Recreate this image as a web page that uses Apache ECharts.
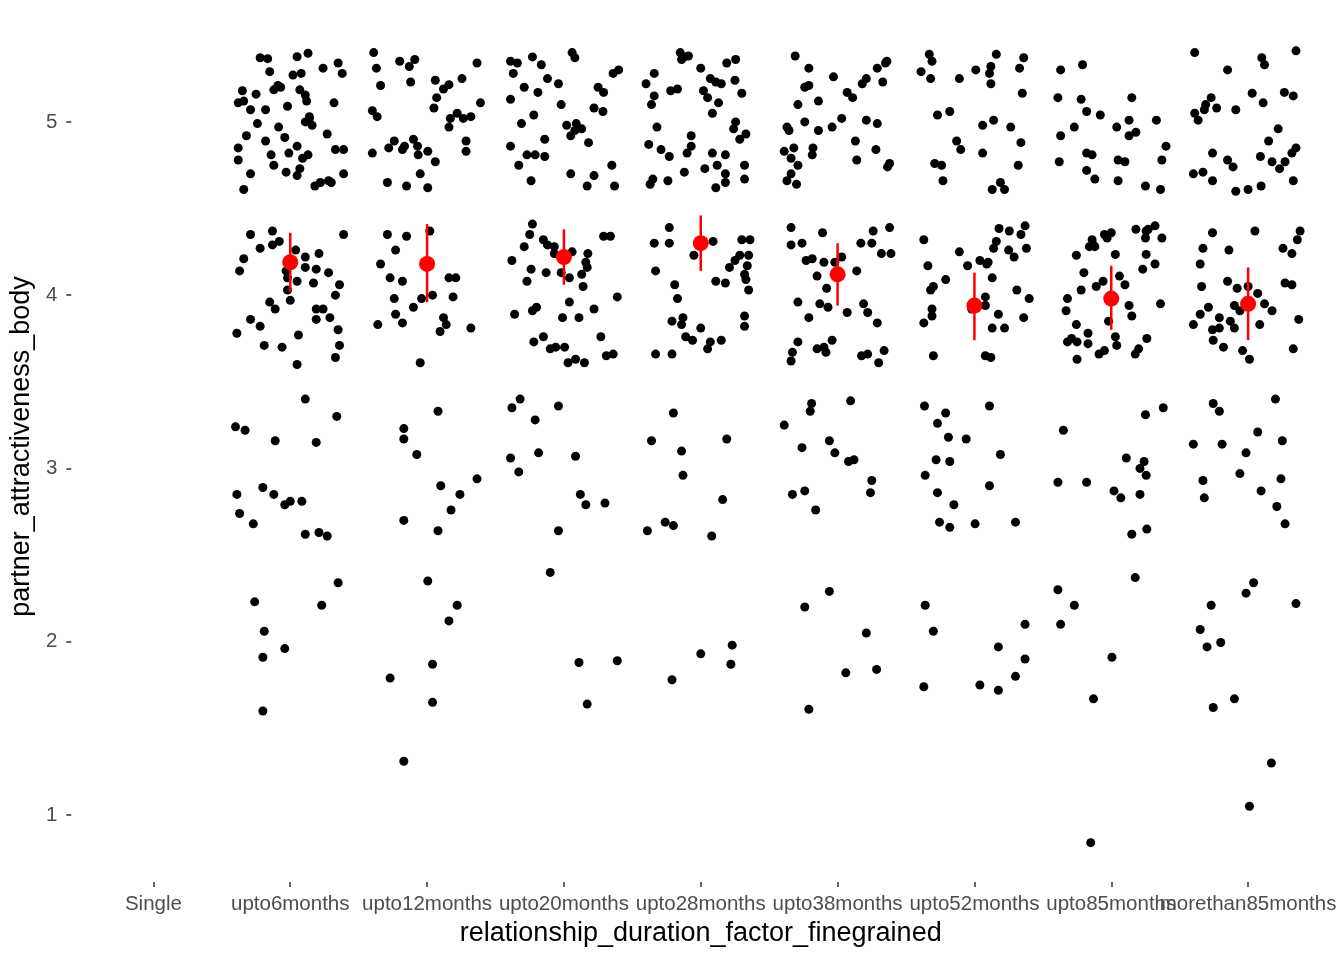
<!DOCTYPE html>
<html>
<head>
<meta charset="utf-8">
<script src="https://cdn.jsdelivr.net/npm/echarts@6/dist/echarts.min.js"></script>
<style>
html,body{margin:0;padding:0;background:#fff;}
#chart{width:1344px;height:960px;}
</style>
</head>
<body>
<div id="chart"></div>
<script>
// ---------- DATA ----------
const categories = ["Single","upto6months","upto12months","upto20months","upto28months","upto38months","upto52months","upto85months","morethan85months"];
const yTicks = [1, 2, 3, 4, 5];

// jittered observations per group: [horizontal jitter (category units), partner_attractiveness_body]
const pts_single = [];
const pts_upto6 = [
[-0.22,5.37],[-0.165,5.365],[0.05,5.376],[0.13,5.396],[0.24,5.31],[0.35,5.34],[0.38,5.28],[-0.15,5.29],[0.02,5.27],[0.08,5.28],[-0.35,5.18],[-0.25,5.16],[-0.09,5.21],[-0.07,5.20],[-0.12,5.185],[0.07,5.185],[0.11,5.155],[0.12,5.12],[-0.38,5.11],[-0.34,5.12],[-0.29,5.07],[-0.18,5.07],[-0.02,5.09],[0.32,5.11],[0.14,5.03],[0.11,5.00],[0.16,4.98],[0.14,5.02],[-0.24,4.99],[-0.085,4.97],[-0.32,4.92],[-0.04,4.91],[0.27,4.93],[-0.18,4.89],[-0.38,4.85],[0.05,4.86],[-0.38,4.78],[-0.14,4.81],[-0.01,4.82],[0.09,4.79],[0.13,4.81],[0.33,4.84],[0.39,4.84],[-0.12,4.75],[-0.03,4.71],[0.07,4.73],[0.05,4.69],[-0.29,4.70],[0.39,4.70],[0.18,4.63],[0.22,4.65],[0.28,4.66],[0.30,4.65],[-0.34,4.61],
[-0.29,4.35],[-0.13,4.37],[-0.08,4.31],[-0.22,4.27],[-0.13,4.29],[0.39,4.35],[0.04,4.26],[-0.34,4.21],[0.11,4.22],[0.21,4.24],[-0.37,4.14],[-0.03,4.14],[0.11,4.16],[0.19,4.15],[0.28,4.13],[-0.02,4.10],[0.05,4.08],[0.17,4.07],[0.36,4.06],[-0.02,4.03],[0.33,4.00],[0.00,3.97],[-0.15,3.96],[-0.11,3.92],[0.19,3.92],[0.24,3.92],[0.19,3.86],[0.29,3.87],[-0.29,3.86],[-0.22,3.82],[-0.39,3.78],[0.35,3.80],[0.06,3.77],[-0.19,3.71],[-0.06,3.70],[0.36,3.71],[0.33,3.64],[0.05,3.60],
[0.11,3.40],[0.34,3.30],[-0.40,3.24],[-0.33,3.22],[-0.11,3.16],[0.19,3.15],[-0.39,2.85],[-0.20,2.89],[-0.12,2.85],[-0.04,2.79],[0.00,2.81],[0.085,2.81],[-0.37,2.74],[-0.27,2.68],[0.11,2.62],[0.21,2.63],[0.27,2.61],
[0.35,2.34],[-0.26,2.23],[0.23,2.21],[-0.19,2.06],[-0.04,1.96],[-0.20,1.91],[-0.20,1.60]
];
const pts_upto12 = [
[-0.39,5.40],[-0.37,5.31],[-0.20,5.35],[-0.13,5.32],[-0.09,5.36],[0.365,5.34],[-0.34,5.21],[-0.12,5.23],[0.06,5.24],[0.255,5.25],[0.12,5.19],[0.16,5.215],[0.07,5.14],[0.05,5.08],[0.39,5.11],[-0.40,5.065],[-0.365,5.03],[0.17,5.02],[0.22,5.05],[0.265,5.02],[0.32,5.03],[0.16,4.97],[-0.24,4.89],[-0.28,4.85],[-0.165,4.86],[-0.18,4.84],[-0.10,4.90],[-0.07,4.86],[-0.065,4.81],[0.005,4.83],[-0.40,4.82],[0.285,4.89],[0.285,4.83],[0.06,4.77],[-0.05,4.70],[-0.29,4.65],[-0.15,4.63],[0.005,4.62],
[-0.29,4.35],[-0.15,4.34],[0.02,4.37],[-0.23,4.26],[-0.34,4.18],[-0.27,4.10],[-0.18,4.08],[0.16,4.10],[0.21,4.10],[-0.24,3.98],[-0.10,3.93],[-0.04,3.98],[0.04,4.00],[0.19,3.99],[-0.23,3.89],[-0.18,3.84],[-0.36,3.83],[0.12,3.87],[0.14,3.83],[0.095,3.79],[0.32,3.81],[-0.05,3.61],
[0.08,3.33],[-0.17,3.23],[-0.17,3.17],[-0.075,3.08],[0.365,2.94],[0.10,2.90],[0.24,2.85],[0.175,2.76],[-0.17,2.70],[0.08,2.64],
[0.005,2.35],[0.22,2.21],[0.16,2.12],[0.04,1.87],[-0.27,1.79],[0.04,1.65],[-0.17,1.31]
];
const pts_upto20 = [
[0.06,5.40],[0.08,5.37],[-0.39,5.35],[-0.34,5.34],[-0.23,5.375],[-0.165,5.33],[-0.37,5.28],[-0.12,5.25],[-0.04,5.22],[0.36,5.28],[0.40,5.30],[-0.29,5.20],[-0.19,5.17],[0.25,5.20],[0.29,5.17],[-0.39,5.13],[-0.02,5.10],[0.22,5.08],[0.285,5.06],[-0.22,5.04],[-0.31,4.99],[0.02,4.98],[0.09,4.99],[0.13,4.96],[0.08,4.95],[0.05,4.92],[-0.14,4.90],[0.18,4.88],[-0.39,4.86],[-0.27,4.81],[-0.21,4.81],[-0.14,4.80],[-0.33,4.75],[0.35,4.75],[0.05,4.70],[0.22,4.69],[-0.24,4.66],[0.17,4.63],[0.37,4.63],
[-0.23,4.41],[-0.25,4.35],[-0.29,4.28],[-0.15,4.32],[-0.12,4.29],[-0.07,4.28],[0.29,4.34],[0.34,4.34],[-0.38,4.20],[-0.07,4.24],[0.06,4.25],[0.175,4.24],[0.16,4.19],[0.17,4.16],[-0.24,4.15],[-0.13,4.13],[-0.02,4.13],[0.04,4.10],[0.13,4.12],[-0.27,4.08],[0.14,4.05],[0.39,3.99],[0.04,3.96],[0.22,3.92],[-0.23,3.91],[-0.20,3.93],[-0.36,3.89],[-0.01,3.87],[0.11,3.87],[-0.15,3.76],[-0.22,3.73],[0.27,3.76],[-0.10,3.69],[-0.06,3.70],[0.005,3.70],[0.085,3.63],[0.03,3.61],[0.15,3.61],[0.31,3.65],[0.36,3.66],
[-0.32,3.40],[-0.38,3.35],[-0.04,3.36],[-0.21,3.28],[-0.185,3.09],[-0.39,3.06],[0.085,3.07],[-0.33,2.98],[0.12,2.85],[0.16,2.79],[0.30,2.80],[-0.04,2.64],[-0.10,2.40],
[0.11,1.88],[0.39,1.89],[0.17,1.64]
];
const pts_upto28 = [
[-0.15,5.40],[-0.12,5.375],[-0.09,5.38],[-0.14,5.36],[-0.34,5.28],[-0.40,5.22],[0.00,5.31],[0.19,5.34],[0.255,5.36],[0.07,5.25],[0.11,5.23],[0.15,5.22],[0.25,5.24],[-0.34,5.15],[-0.36,5.10],[-0.22,5.18],[-0.17,5.19],[0.02,5.18],[0.05,5.14],[0.13,5.11],[0.30,5.165],[0.085,5.05],[-0.32,4.97],[0.255,5.00],[0.24,4.96],[0.285,4.90],[0.33,4.93],[-0.07,4.92],[-0.07,4.86],[-0.10,4.82],[-0.38,4.87],[-0.29,4.84],[-0.23,4.80],[0.085,4.82],[0.18,4.81],[0.12,4.75],[0.03,4.73],[0.32,4.75],[-0.12,4.71],[0.18,4.70],[0.18,4.65],[0.32,4.67],[-0.35,4.67],[-0.37,4.64],[-0.24,4.66],[0.11,4.62],
[-0.23,4.39],[-0.34,4.30],[-0.23,4.30],[0.09,4.31],[0.30,4.32],[0.36,4.32],[-0.05,4.23],[0.285,4.23],[0.35,4.23],[0.25,4.20],[0.21,4.16],[0.34,4.17],[-0.33,4.14],[0.32,4.12],[0.33,4.09],[0.35,4.03],[0.11,4.08],[0.18,4.07],[-0.19,4.06],[-0.17,3.98],[-0.21,3.85],[-0.13,3.87],[-0.14,3.83],[0.32,3.88],[0.32,3.82],[0.00,3.81],[-0.11,3.76],[-0.06,3.74],[0.07,3.73],[0.05,3.69],[0.15,3.74],[-0.33,3.66],[-0.21,3.66],
[-0.20,3.32],[-0.36,3.16],[0.19,3.17],[-0.14,3.10],[-0.13,2.96],[0.16,2.82],[-0.26,2.69],[-0.20,2.67],[-0.39,2.64],[0.08,2.61],
[0.23,1.98],[0.00,1.93],[0.22,1.87],[-0.21,1.78]
];
const pts_upto38 = [
[-0.31,5.38],[-0.21,5.31],[-0.03,5.26],[0.29,5.31],[0.36,5.35],[0.35,5.34],[0.21,5.25],[0.18,5.22],[0.33,5.23],[-0.21,5.21],[-0.24,5.20],[0.07,5.17],[0.11,5.14],[-0.29,5.10],[-0.14,5.12],[-0.24,5.00],[-0.37,4.97],[-0.355,4.95],[-0.14,4.95],[-0.04,4.97],[0.03,5.02],[0.21,5.01],[0.29,4.99],[0.13,4.89],[-0.32,4.85],[-0.39,4.83],[-0.18,4.85],[-0.185,4.81],[0.28,4.84],[-0.34,4.79],[-0.29,4.75],[0.14,4.78],[0.38,4.76],[0.365,4.74],[-0.34,4.70],[-0.37,4.66],[-0.30,4.64],
[-0.34,4.39],[-0.11,4.36],[0.26,4.37],[0.38,4.39],[-0.34,4.29],[-0.26,4.30],[0.17,4.30],[0.25,4.30],[0.32,4.24],[0.39,4.24],[-0.23,4.20],[-0.185,4.21],[-0.10,4.19],[-0.02,4.19],[0.03,4.22],[-0.15,4.11],[0.14,4.14],[-0.08,4.04],[-0.29,3.96],[-0.13,3.95],[-0.07,3.93],[0.19,3.95],[0.22,3.90],[0.07,3.90],[-0.21,3.87],[0.29,3.84],[-0.29,3.73],[-0.04,3.74],[-0.33,3.67],[-0.34,3.62],[-0.15,3.69],[-0.10,3.70],[-0.085,3.67],[0.175,3.65],[0.22,3.66],[0.34,3.68],[0.30,3.61],
[-0.19,3.375],[-0.20,3.33],[0.095,3.39],[-0.39,3.25],[-0.26,3.12],[-0.06,3.16],[-0.02,3.09],[0.08,3.04],[0.12,3.05],[0.25,2.93],[0.24,2.86],[-0.33,2.85],[-0.24,2.87],[-0.16,2.76],
[-0.06,2.29],[-0.24,2.20],[0.21,2.05],[0.285,1.84],[0.06,1.82],[-0.21,1.61]
];
const pts_upto52 = [
[-0.33,5.39],[-0.31,5.35],[-0.39,5.29],[-0.32,5.25],[-0.11,5.25],[0.01,5.30],[0.16,5.39],[0.12,5.32],[0.11,5.28],[0.12,5.22],[0.33,5.31],[0.36,5.37],[0.35,5.165],[-0.27,5.04],[-0.18,5.06],[0.06,4.98],[0.14,5.01],[0.265,4.97],[-0.13,4.89],[-0.10,4.84],[0.06,4.82],[0.34,4.88],[-0.29,4.76],[-0.24,4.75],[0.32,4.75],[-0.23,4.66],[0.13,4.61],[0.19,4.65],[0.22,4.61],
[0.37,4.40],[0.18,4.385],[0.255,4.37],[0.34,4.35],[0.16,4.31],[0.14,4.27],[0.38,4.27],[0.25,4.26],[0.29,4.22],[-0.37,4.32],[-0.11,4.25],[-0.34,4.17],[-0.05,4.17],[0.04,4.20],[0.10,4.19],[0.09,4.18],[-0.21,4.09],[0.13,4.10],[-0.30,4.05],[-0.32,4.03],[0.31,4.03],[0.40,3.98],[0.08,3.99],[0.08,3.94],[-0.02,3.92],[-0.31,3.92],[-0.31,3.88],[-0.37,3.84],[0.175,3.89],[0.36,3.87],[0.13,3.81],[0.22,3.81],[-0.30,3.65],[0.08,3.65],[0.12,3.64],
[-0.365,3.36],[-0.21,3.32],[0.11,3.36],[-0.27,3.26],[-0.19,3.18],[-0.06,3.17],[0.19,3.08],[-0.28,3.05],[-0.18,3.04],[-0.36,2.96],[0.11,2.90],[-0.27,2.86],[-0.15,2.79],[-0.255,2.69],[-0.18,2.66],[0.005,2.68],[0.30,2.69],
[-0.36,2.21],[-0.30,2.06],[0.37,2.10],[0.175,1.97],[0.37,1.90],[0.30,1.80],[-0.37,1.74],[0.04,1.75],[0.175,1.72]
];
const pts_upto85 = [
[-0.37,5.30],[-0.21,5.33],[-0.39,5.14],[-0.22,5.13],[0.15,5.14],[-0.18,5.06],[-0.08,5.04],[0.33,5.01],[-0.27,4.97],[0.04,4.97],[0.13,5.01],[0.18,4.94],[0.13,4.92],[-0.37,4.92],[0.40,4.86],[-0.18,4.82],[-0.14,4.81],[0.05,4.78],[0.10,4.77],[0.37,4.78],[-0.38,4.77],[-0.18,4.72],[-0.12,4.67],[0.05,4.66],[0.25,4.63],[0.36,4.61],
[-0.14,4.32],[-0.13,4.29],[-0.16,4.28],[-0.12,4.28],[-0.05,4.35],[-0.03,4.33],[0.00,4.36],[0.18,4.38],[0.255,4.37],[0.27,4.38],[0.32,4.40],[0.25,4.33],[0.37,4.33],[-0.255,4.23],[0.03,4.235],[0.255,4.235],[0.32,4.18],[0.23,4.15],[-0.20,4.13],[0.06,4.11],[-0.06,4.08],[-0.11,4.05],[0.10,4.06],[-0.22,4.03],[-0.32,3.98],[-0.33,3.91],[0.13,3.94],[0.36,3.95],[-0.02,3.85],[0.15,3.88],[-0.255,3.83],[-0.17,3.78],[-0.32,3.73],[-0.29,3.75],[-0.25,3.73],[-0.17,3.72],[0.03,3.76],[0.04,3.71],[0.26,3.75],[-0.09,3.66],[-0.05,3.68],[0.175,3.66],[0.20,3.69],[-0.25,3.63],
[0.38,3.35],[0.25,3.31],[-0.35,3.22],[0.11,3.06],[0.24,3.04],[0.21,3.00],[0.255,2.96],[-0.39,2.92],[-0.18,2.92],[0.02,2.87],[0.07,2.83],[0.21,2.85],[0.26,2.65],[0.15,2.62],
[0.175,2.37],[-0.39,2.30],[-0.27,2.21],[-0.37,2.10],[0.005,1.91],[-0.13,1.67],[-0.15,0.84]
];
const pts_morethan85 = [
[-0.39,5.40],[-0.15,5.30],[0.10,5.37],[0.12,5.33],[0.35,5.41],[-0.27,5.14],[-0.31,5.10],[-0.32,5.07],[-0.39,5.05],[-0.365,5.01],[-0.23,5.08],[-0.09,5.07],[0.03,5.165],[0.11,5.11],[0.265,5.17],[0.33,5.15],[0.22,4.96],[0.15,4.89],[-0.26,4.82],[-0.15,4.78],[-0.11,4.74],[0.09,4.80],[0.175,4.77],[0.23,4.73],[0.27,4.77],[0.32,4.82],[0.35,4.85],[-0.40,4.70],[-0.33,4.71],[-0.26,4.66],[-0.09,4.60],[0.00,4.61],[0.095,4.63],[0.33,4.66],
[-0.26,4.36],[0.05,4.37],[0.38,4.37],[0.36,4.32],[-0.33,4.27],[-0.14,4.26],[0.255,4.27],[0.32,4.24],[-0.35,4.18],[-0.34,4.05],[-0.15,4.08],[-0.08,4.04],[0.00,4.05],[0.07,4.01],[0.27,4.07],[0.32,4.06],[-0.29,3.93],[-0.35,3.89],[-0.10,3.94],[-0.06,3.91],[0.12,3.95],[0.175,3.91],[-0.21,3.87],[-0.13,3.85],[-0.40,3.83],[-0.26,3.80],[-0.21,3.81],[-0.10,3.81],[0.085,3.83],[0.37,3.86],[-0.255,3.74],[-0.18,3.70],[-0.04,3.68],[0.01,3.63],[0.33,3.69],
[-0.255,3.375],[-0.21,3.33],[0.20,3.40],[0.07,3.21],[-0.40,3.14],[-0.19,3.14],[0.25,3.16],[-0.015,3.09],[-0.06,2.97],[0.24,2.94],[-0.33,2.93],[-0.32,2.83],[0.095,2.87],[0.21,2.78],[0.27,2.68],
[0.04,2.34],[-0.015,2.28],[0.35,2.22],[-0.27,2.21],[-0.35,2.07],[-0.30,1.97],[-0.20,1.995],[-0.10,1.67],[-0.255,1.62],[0.17,1.30],[0.01,1.05]
];

// group means with intervals (Single has none)
const meanVals  = [null, 4.19, 4.18, 4.22, 4.30, 4.12, 3.94, 3.98, 3.95];
const lowerVals = [null, 4.02, 3.96, 4.06, 4.14, 3.94, 3.74, 3.80, 3.74];
const upperVals = [null, 4.36, 4.41, 4.38, 4.46, 4.30, 4.13, 4.17, 4.16];

// ---------- BUILD ----------
const groups = [pts_single, pts_upto6, pts_upto12, pts_upto20, pts_upto28, pts_upto38, pts_upto52, pts_upto85, pts_morethan85];
const jitterData = [];
groups.forEach((g, i) => g.forEach(p => jitterData.push([i + 1 + p[0], p[1]])));
const meanData = [], barData = [];
meanVals.forEach((m, i) => {
  if (m == null) return;
  meanData.push([i + 1, m]);
  barData.push([i + 1, lowerVals[i], upperVals[i]]);
});
const catPositions = categories.map((c, i) => i + 1);
// labels split over two overlaid axes so overlapping neighbours are both kept (as in the original)
const labelPosA = catPositions.filter(p => p !== 8);
const labelPosB = [8];

const FONT = "'Liberation Sans', Arial, sans-serif";
const labelStyle = {color: '#4d4d4d', fontSize: 20.5, fontFamily: FONT, margin: 12,
                    showMinLabel: true, showMaxLabel: true,
                    formatter: v => categories[Math.round(v) - 1]};
const chart = echarts.init(document.getElementById('chart'), null, {renderer: 'canvas'});
chart.setOption({
  backgroundColor: '#ffffff',
  animation: false,
  grid: {left: 69.8, right: 13.8, top: 11, bottom: 78, containLabel: false},
  xAxis: [{
    type: 'value', min: 0.4, max: 9.6, position: 'bottom', offset: 0,
    name: 'relationship_duration_factor_finegrained',
    nameLocation: 'middle', nameGap: 36,
    nameTextStyle: {color: '#000', fontSize: 27, fontFamily: FONT},
    axisLine: {show: false},
    splitLine: {show: false},
    axisTick: {show: true, length: 5, lineStyle: {color: '#333333', width: 1.5}, customValues: catPositions},
    axisLabel: Object.assign({customValues: labelPosA}, labelStyle)
  }, {
    type: 'value', min: 0.4, max: 9.6, position: 'bottom', offset: 0,
    axisLine: {show: false},
    splitLine: {show: false},
    axisTick: {show: false},
    axisLabel: Object.assign({customValues: labelPosB}, labelStyle)
  }],
  yAxis: {
    type: 'value', min: 0.613, max: 5.64,
    name: 'partner_attractiveness_body',
    nameLocation: 'middle', nameGap: 28, nameRotate: 90,
    nameTextStyle: {color: '#000', fontSize: 27, fontFamily: FONT},
    axisLine: {show: false},
    splitLine: {show: false},
    axisTick: {show: true, length: 5, lineStyle: {color: '#333333', width: 1.5}, customValues: yTicks},
    axisLabel: {customValues: yTicks, margin: 14, showMinLabel: true, showMaxLabel: true, color: '#4d4d4d', fontSize: 20.5, fontFamily: FONT}
  },
  series: [
    {
      type: 'scatter', data: jitterData, symbol: 'circle', symbolSize: 9, xAxisIndex: 0,
      itemStyle: {color: '#000000', opacity: 1}, silent: true, z: 2
    },
    {
      type: 'custom', data: barData, encode: {x: 0, y: [1, 2]}, z: 3, silent: true, xAxisIndex: 0,
      renderItem: (params, api) => {
        const x = api.value(0);
        const p1 = api.coord([x, api.value(1)]);
        const p2 = api.coord([x, api.value(2)]);
        return {type: 'line', shape: {x1: p1[0], y1: p1[1], x2: p2[0], y2: p2[1]},
                style: {stroke: '#FF0000', lineWidth: 2.5}};
      }
    },
    {
      type: 'scatter', data: meanData, symbol: 'circle', symbolSize: 16, xAxisIndex: 0,
      itemStyle: {color: '#FF0000', opacity: 1}, silent: true, z: 4
    }
  ]
});
</script>
</body>
</html>
